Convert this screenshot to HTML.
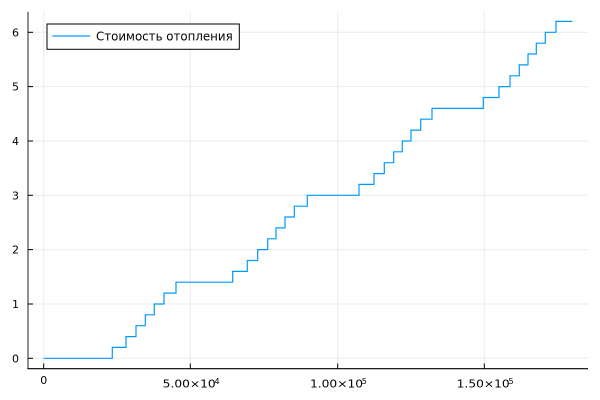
<!DOCTYPE html>
<html><head><meta charset="utf-8"><style>
html,body{margin:0;padding:0;background:#fff;}
svg{display:block;}
text{font-family:"DejaVu Sans","Liberation Sans",sans-serif;fill:#000;}
</style></head><body>
<svg width="600" height="400" viewBox="0 0 600 400" xmlns="http://www.w3.org/2000/svg">
<rect width="600" height="400" fill="#fff"/>
<g stroke="#ebebeb" stroke-width="1">
<line x1="43.7" y1="11.7" x2="43.7" y2="368.5"/>
<line x1="190.3" y1="11.7" x2="190.3" y2="368.5"/>
<line x1="337.7" y1="11.7" x2="337.7" y2="368.5"/>
<line x1="484.3" y1="11.7" x2="484.3" y2="368.5"/>
<line x1="28" y1="358.3" x2="588" y2="358.3"/>
<line x1="28" y1="304" x2="588" y2="304"/>
<line x1="28" y1="249.6" x2="588" y2="249.6"/>
<line x1="28" y1="195.3" x2="588" y2="195.3"/>
<line x1="28" y1="141" x2="588" y2="141"/>
<line x1="28" y1="86.6" x2="588" y2="86.6"/>
<line x1="28" y1="32.3" x2="588" y2="32.3"/>
</g>
<line x1="28" y1="11.7" x2="28" y2="369" stroke="#555" stroke-width="1.3"/>
<line x1="27.5" y1="368.7" x2="588" y2="368.7" stroke="#000" stroke-width="1.2"/>
<g stroke="#000" stroke-width="1">
<line x1="28" y1="358.3" x2="33" y2="358.3"/>
<line x1="28" y1="304" x2="33" y2="304"/>
<line x1="28" y1="249.6" x2="33" y2="249.6"/>
<line x1="28" y1="195.3" x2="33" y2="195.3"/>
<line x1="28" y1="141" x2="33" y2="141"/>
<line x1="28" y1="86.6" x2="33" y2="86.6"/>
<line x1="28" y1="32.3" x2="33" y2="32.3"/>
<line x1="43.7" y1="368.7" x2="43.7" y2="363.5"/>
<line x1="190.3" y1="368.7" x2="190.3" y2="363.5"/>
<line x1="337.7" y1="368.7" x2="337.7" y2="363.5"/>
<line x1="484.3" y1="368.7" x2="484.3" y2="363.5"/>
</g>
<g font-size="11" text-anchor="end">
<text x="19" y="362.3">0</text>
<text x="19" y="308">1</text>
<text x="19" y="253.6">2</text>
<text x="19" y="199.3">3</text>
<text x="19" y="145">4</text>
<text x="19" y="90.6">5</text>
<text x="19" y="36.3">6</text>
</g>
<g font-size="11">
<text x="43.7" y="384" text-anchor="middle">0</text>
<text x="162.7" y="387.7" textLength="53" lengthAdjust="spacingAndGlyphs">5.00×10</text><text x="214.5" y="384" font-size="8">4</text>
<text x="310" y="387.7" textLength="53" lengthAdjust="spacingAndGlyphs">1.00×10</text><text x="361.8" y="384" font-size="8">5</text>
<text x="456.7" y="387.7" textLength="53" lengthAdjust="spacingAndGlyphs">1.50×10</text><text x="508.5" y="384" font-size="8">5</text>
</g>
<path fill="none" stroke="#009AFA" stroke-width="1.2" d="M43.7 358.3 H112.3 V347.4 H126 V336.6 H136 V325.7 H145.3 V314.8 H154.3 V304 H164 V293.1 H176 V282.2 H232.7 V271.4 H247.3 V260.5 H257.7 V249.6 H267.7 V238.8 H276 V227.9 H285 V217 H294.3 V206.2 H307.3 V195.3 H359 V184.4 H374 V173.6 H384.3 V162.7 H393.7 V151.8 H402.3 V141 H411 V130.1 H420.7 V119.2 H432 V108.4 H483.3 V97.5 H499 V86.6 H510 V75.8 H519.3 V64.9 H528 V54 H536.3 V43.2 H545.3 V32.3 H556 V21.4 H572.3"/>
<rect x="47" y="24" width="192.3" height="25.3" fill="#fff" stroke="#000" stroke-width="1"/>
<line x1="52.3" y1="36" x2="90" y2="36" stroke="#009AFA" stroke-width="1.2"/>
<text x="96" y="40.3" font-size="12" textLength="136.7" lengthAdjust="spacingAndGlyphs">Стоимость отопления</text>
</svg>
</body></html>
